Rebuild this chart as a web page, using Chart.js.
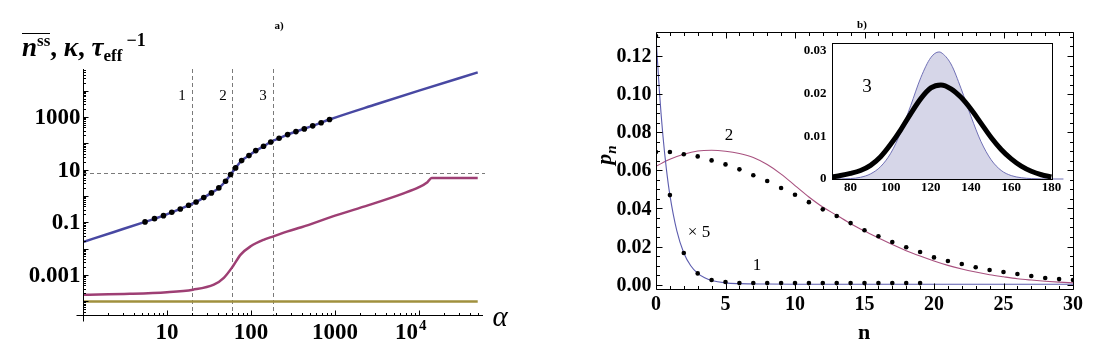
<!DOCTYPE html>
<html>
<head>
<meta charset="utf-8">
<script src="https://cdn.jsdelivr.net/npm/chart.js@4.4.1/dist/chart.umd.min.js"></script>
<style>
  body { margin: 0; background: #fff; }
  #wrap { position: relative; width: 1104px; height: 363px; overflow: hidden; font-family: "Liberation Serif", "Times New Roman", serif; color: #000; }
  canvas { position: absolute; left: 0; top: 0; }
  .lbl { position: absolute; transform: translate(-50%, -50%); white-space: nowrap; line-height: 1; }
  .sm { position: relative; }
</style>
</head>
<body>
<div id="wrap">
  <canvas id="chartA" width="1104" height="363"></canvas>
  <canvas id="chartB" width="1104" height="363"></canvas>
  <canvas id="chartC" width="1104" height="363"></canvas>

  <div class="lbl" style="left:279px;top:25px;font-weight:bold;font-size:11px">a)</div>
  <div class="lbl" style="left:862px;top:24px;font-weight:bold;font-size:11px">b)</div>

  <div style="position:absolute;left:22px;top:33px;font-weight:bold;font-size:27px;line-height:27px;white-space:nowrap">
    <span style="display:inline-block;border-top:1.5px solid #000;line-height:26px"><i>n</i><span class="sm" style="font-size:17px;top:-10px">ss</span></span>, <i>κ</i>, <i>τ</i><span class="sm" style="font-size:17px;top:5px">eff</span><span class="sm" style="font-size:18px;top:-10px;margin-left:4px">−1</span>
  </div>
  <div class="lbl" style="left:500px;top:316px;font-style:italic;font-size:29px">α</div>

  <div class="lbl" style="left:182px;top:95px;font-size:15px">1</div>
  <div class="lbl" style="left:223px;top:95px;font-size:15px">2</div>
  <div class="lbl" style="left:263px;top:95px;font-size:15px">3</div>

  <div class="lbl" style="left:604px;top:155px;transform:translate(-50%,-50%) rotate(-90deg);font-weight:bold;font-size:22px"><i>p</i><span class="sm" style="font-size:15px;top:5px"><i>n</i></span></div>
  <div class="lbl" style="left:864px;top:332px;font-weight:bold;font-size:22px">n</div>
  <div class="lbl" style="left:729px;top:134px;font-size:17px">2</div>
  <div class="lbl" style="left:699px;top:231px;font-size:17px">× 5</div>
  <div class="lbl" style="left:757px;top:264px;font-size:17px">1</div>
  <div class="lbl" style="left:867px;top:85px;font-size:19px">3</div>
</div>

<script>
// ---- panel a) : steady state quantities vs alpha (log-log)
const alphaLine = [1, 2.34, 5.48, 9.08, 14.4, 22.2, 27.4, 33.8, 41.4, 49.8, 57.1, 65.6, 77.4, 94.6, 114, 141, 172, 216, 273, 343, 543, 861, 3162, 10000, 50000];
const nssLine = [0.0178, 0.0427, 0.103, 0.178, 0.320, 0.589, 0.861, 1.30, 2.01, 3.59, 6.46, 11.6, 21.9, 33.9, 52.5, 76.4, 112, 154, 213, 277, 457, 794, 3090, 10000, 49000];
const alphaDots = [5.48, 7.1, 9.08, 11.4, 14.4, 18.1, 22.2, 27.4, 33.8, 41.4, 49.8, 57.1, 65.6, 77.4, 94.6, 114, 141, 172, 216, 273, 343, 431, 543, 684, 861];
const nssDots = [0.103, 0.137, 0.178, 0.239, 0.320, 0.440, 0.589, 0.861, 1.30, 2.01, 3.59, 6.46, 11.6, 21.9, 33.9, 52.5, 76.4, 112, 154, 213, 277, 350, 457, 600, 794];
const alphaKappa = [1, 3.62, 10, 20.4, 36.1, 47.5, 61, 75.3, 99.1, 143, 185, 273, 398, 1000, 2512, 6310, 10000, 12590, 14130, 50000];
const kappaVals = [1.78e-4, 1.91e-4, 2.19e-4, 2.75e-4, 4.27e-4, 7.76e-4, 2.14e-3, 5.89e-3, 0.0122, 0.0219, 0.0292, 0.0452, 0.0646, 0.178, 0.447, 1.20, 2.14, 3.31, 4.79, 4.79];
const alphaTau = [1, 50000];
const tauVals = [9.7e-5, 9.7e-5];
const alphaMarks = [20, 60, 185];
const nssLevel = 7.46;
const yTicksA = [0.001, 0.1, 10, 1000];
const yLabelsA = ['0.001', '0.1', '10', '1000'];
const xTicksA = [10, 100, 1000, 10000];
const xLabelsA = ['10', '100', '1000', '10^4'];

// ---- panel b) : distributions p_n
const nDots2 = [0, 1, 2, 3, 4, 5, 6, 7, 8, 9, 10, 11, 12, 13, 14, 15, 16, 17, 18, 19, 20, 21, 22, 23, 24, 25, 26, 27, 28, 29, 30];
const pDots2 = [0.0696, 0.0696, 0.0684, 0.0673, 0.0652, 0.0631, 0.0605, 0.0574, 0.0544, 0.0507, 0.0472, 0.0433, 0.0395, 0.0360, 0.0323, 0.0285, 0.0254, 0.0224, 0.0196, 0.0171, 0.0143, 0.0124, 0.0108, 0.0091, 0.0077, 0.0066, 0.0056, 0.0045, 0.0035, 0.0029, 0.0024];
const nLine2 = [0, 1, 2, 3, 4, 5, 6, 7, 8, 9, 10, 11, 12, 13, 14, 15, 16, 17, 18, 19, 20, 21, 22, 23, 24, 25, 26, 27, 28, 29, 30];
const pLine2 = [0.0621, 0.0658, 0.0684, 0.0701, 0.0705, 0.0700, 0.0688, 0.0667, 0.0630, 0.0580, 0.0520, 0.0460, 0.0407, 0.0364, 0.0320, 0.0281, 0.0245, 0.0210, 0.0178, 0.0150, 0.0124, 0.0101, 0.0082, 0.0066, 0.0052, 0.0041, 0.0031, 0.0024, 0.0018, 0.0013, 0.0009];
const nDots1 = [0, 1, 2, 3, 4, 5, 6, 7, 8, 9, 10, 11, 12, 13, 14, 15, 16, 17, 18, 19];
const pDots1 = [0.1305, 0.0470, 0.0166, 0.0059, 0.0024, 0.0014, 0.0008, 0.0008, 0.0008, 0.0008, 0.0008, 0.0008, 0.0008, 0.0008, 0.0008, 0.0008, 0.0008, 0.0008, 0.0008, 0.0008];
const nLine1 = [0, 0.25, 0.5, 0.75, 1, 1.5, 2, 2.5, 3, 3.5, 4, 5, 6, 8, 10, 30];
const pLine1 = [0.130, 0.101, 0.078, 0.0605, 0.047, 0.0282, 0.0166, 0.0099, 0.0059, 0.0036, 0.0022, 0.0009, 0.0005, 0.0003, 0.0002, 0.0002];
const yTicksB = [0, 0.02, 0.04, 0.06, 0.08, 0.10, 0.12];
const yLabelsB = ['0.00', '0.02', '0.04', '0.06', '0.08', '0.10', '0.12'];
const xTicksB = [0, 5, 10, 15, 20, 25, 30];

// ---- inset (curve 3)
const nInset = [71, 75, 80, 85, 90, 95, 100, 105, 110, 115, 120, 125, 130, 135, 140, 145, 150, 155, 160, 165, 170, 175, 180];
const pInset = [0.0005, 0.0008, 0.0013, 0.0020, 0.0032, 0.0052, 0.0081, 0.0115, 0.0153, 0.0188, 0.0213, 0.0220, 0.0211, 0.0191, 0.0163, 0.0130, 0.0097, 0.0069, 0.0047, 0.0030, 0.0018, 0.0010, 0.0005];
const nInsetFill = [71, 80, 85, 90, 95, 100, 105, 110, 115, 120, 124, 125, 130, 135, 140, 145, 150, 155, 160, 165, 170, 180, 186];
const pInsetFill = [0, 0.0001, 0.0004, 0.0012, 0.0029, 0.0060, 0.0109, 0.0172, 0.0237, 0.0284, 0.0297, 0.0296, 0.0269, 0.0212, 0.0146, 0.0087, 0.0045, 0.0020, 0.0008, 0.0003, 0.0001, 0, 0];
const yTicksC = [0, 0.01, 0.02, 0.03];
const yLabelsC = ['0', '0.01', '0.02', '0.03'];
const xTicksC = [80, 100, 120, 140, 160, 180];

const SERIF = '"Liberation Serif", "Times New Roman", serif';

function pts(xs, ys) {
  return xs.map((v, i) => ({ x: v, y: ys[i] }));
}

function baseOptions(pad, xScale, yScale, plugin) {
  return {
    responsive: false,
    animation: false,
    devicePixelRatio: 1,
    events: [],
    layout: { padding: pad },
    plugins: { legend: { display: false }, tooltip: { enabled: false } },
    scales: { x: Object.assign({ display: false }, xScale), y: Object.assign({ display: false }, yScale) },
    elements: { point: { radius: 0 } }
  };
}

function text(ctx, s, x, y, font, align) {
  ctx.font = font;
  ctx.textAlign = align;
  ctx.textBaseline = 'middle';
  ctx.fillText(s, x, y);
}

// Plugin for panel a): dashed guides, crossing axes with log ticks
const panelA = {
  id: 'panelA',
  beforeDatasetsDraw(chart) {
    const { ctx, scales: { x, y } } = chart;
    ctx.save();
    ctx.strokeStyle = '#7a7a7a';
    ctx.lineWidth = 1;
    ctx.setLineDash([4, 3]);
    ctx.beginPath();
    alphaMarks.forEach(a => {
      const px = Math.round(x.getPixelForValue(a)) + 0.5;
      ctx.moveTo(px, y.top);
      ctx.lineTo(px, y.bottom);
    });
    const py = Math.round(y.getPixelForValue(nssLevel)) + 0.5;
    ctx.moveTo(x.left, py);
    ctx.lineTo(x.right + 2, py);
    ctx.stroke();
    ctx.restore();
  },
  afterDraw(chart) {
    const { ctx, scales: { x, y } } = chart;
    const ax = Math.round(x.left) + 0.5;
    const ay = Math.round(y.bottom) + 0.5;
    ctx.save();
    ctx.strokeStyle = '#000';
    ctx.lineWidth = 1;
    ctx.beginPath();
    ctx.moveTo(ax - 7, ay); ctx.lineTo(x.right, ay);
    ctx.moveTo(ax, y.top); ctx.lineTo(ax, ay + 6);
    for (let e = -5; e <= 5; e++) {
      for (let m = 1; m < 10; m++) {
        const v = m * Math.pow(10, e);
        const len = m === 1 ? 5 : 2.5;
        if (v > y.min && v < y.max) {
          const p = Math.round(y.getPixelForValue(v)) + 0.5;
          ctx.moveTo(ax, p); ctx.lineTo(ax + len, p);
        }
        if (v > x.min && v < x.max) {
          const p = Math.round(x.getPixelForValue(v)) + 0.5;
          ctx.moveTo(p, ay); ctx.lineTo(p, ay - len);
        }
      }
    }
    ctx.stroke();
    ctx.fillStyle = '#000';
    const f = 'bold 23px ' + SERIF;
    yTicksA.forEach((v, i) => text(ctx, yLabelsA[i], ax - 3, y.getPixelForValue(v) + 1, f, 'right'));
    xTicksA.forEach((v, i) => {
      const px = x.getPixelForValue(v);
      const parts = xLabelsA[i].split('^');
      if (parts.length === 1) {
        text(ctx, parts[0], px, 333, f, 'center');
      } else {
        text(ctx, parts[0], px - 1, 333, f, 'right');
        text(ctx, parts[1], px, 326, 'bold 15px ' + SERIF, 'left');
      }
    });
    ctx.restore();
  }
};

// Plugin for panel b): frame with ticks on all four sides
const panelB = {
  id: 'panelB',
  afterDraw(chart) {
    const { ctx, scales: { x, y } } = chart;
    const L = Math.round(x.left) + 0.5, R = Math.round(x.right) + 0.5;
    const T = Math.round(y.top) + 0.5, B = Math.round(y.bottom) + 0.5;
    ctx.save();
    ctx.strokeStyle = '#000';
    ctx.lineWidth = 1;
    ctx.beginPath();
    ctx.rect(L, T, R - L, B - T);
    for (let n = 0; n <= 30; n++) {
      const len = n % 5 === 0 ? 6 : 3.5;
      const p = Math.round(x.getPixelForValue(n)) + 0.5;
      ctx.moveTo(p, B); ctx.lineTo(p, B - len);
      ctx.moveTo(p, T); ctx.lineTo(p, T + len);
    }
    for (let k = 0; k <= 26; k++) {
      const v = k * 0.005;
      const len = k % 4 === 0 ? 6 : 3.5;
      const p = Math.round(y.getPixelForValue(v)) + 0.5;
      ctx.moveTo(L, p); ctx.lineTo(L + len, p);
      ctx.moveTo(R, p); ctx.lineTo(R - len, p);
    }
    ctx.stroke();
    ctx.fillStyle = '#000';
    const f = 'bold 20px ' + SERIF;
    yTicksB.forEach((v, i) => text(ctx, yLabelsB[i], L - 5, y.getPixelForValue(v) + 1, f, 'right'));
    xTicksB.forEach(v => text(ctx, String(v), x.getPixelForValue(v), 305, f, 'center'));
    ctx.restore();
  }
};

// Plugin for the inset: white background, frame and labels
const panelC = {
  id: 'panelC',
  beforeDraw(chart) {
    const { ctx, chartArea: a } = chart;
    ctx.save();
    ctx.fillStyle = '#fff';
    ctx.fillRect(a.left, a.top, a.right - a.left, a.bottom - a.top);
    ctx.restore();
  },
  afterDraw(chart) {
    const { ctx, scales: { x, y } } = chart;
    const L = Math.round(x.left) + 0.5, R = Math.round(x.right) + 0.5;
    const T = Math.round(y.top) + 0.5, B = Math.round(y.bottom) + 0.5;
    ctx.save();
    ctx.strokeStyle = '#000';
    ctx.lineWidth = 1;
    ctx.strokeRect(L, T, R - L, B - T);
    ctx.fillStyle = '#000';
    const f = 'bold 13px ' + SERIF;
    yTicksC.forEach((v, i) => text(ctx, yLabelsC[i], L - 6, y.getPixelForValue(v), f, 'right'));
    xTicksC.forEach(v => text(ctx, String(v), x.getPixelForValue(v), 188, f, 'center'));
    ctx.restore();
  }
};

new Chart(document.getElementById('chartA'), {
  type: 'line',
  data: {
    datasets: [
      { data: pts(alphaDots, nssDots), showLine: false, pointRadius: 2.8, pointBackgroundColor: '#000', pointBorderWidth: 0 },
      { data: pts(alphaLine, nssLine), borderColor: '#4848a2', borderWidth: 2.5, cubicInterpolationMode: 'monotone' },
      { data: pts(alphaKappa, kappaVals), borderColor: '#9e3f74', borderWidth: 2.5, cubicInterpolationMode: 'monotone' },
      { data: pts(alphaTau, tauVals), borderColor: '#a0903e', borderWidth: 2.5 }
    ]
  },
  options: baseOptions({ left: 83, right: 621, top: 69, bottom: 48 },
    { type: 'logarithmic', min: 1, max: 57800 },
    { type: 'logarithmic', min: 3.0e-5, max: 6.6e4 }),
  plugins: [panelA]
});

new Chart(document.getElementById('chartB'), {
  type: 'line',
  data: {
    datasets: [
      { data: pts(nDots1, pDots1), showLine: false, pointRadius: 2.3, pointBackgroundColor: '#000', pointBorderWidth: 0 },
      { data: pts(nDots2, pDots2), showLine: false, pointRadius: 2.3, pointBackgroundColor: '#000', pointBorderWidth: 0 },
      { data: pts(nLine1, pLine1), borderColor: '#5c5cae', borderWidth: 1.1, cubicInterpolationMode: 'monotone' },
      { data: pts(nLine2, pLine2), borderColor: '#a8517f', borderWidth: 1.1, cubicInterpolationMode: 'monotone' }
    ]
  },
  options: baseOptions({ left: 656, right: 31, top: 32, bottom: 74 },
    { type: 'linear', min: 0, max: 30 },
    { type: 'linear', min: -0.0023, max: 0.1326 }),
  plugins: [panelB]
});

new Chart(document.getElementById('chartC'), {
  type: 'line',
  data: {
    datasets: [
      { data: pts(nInset, pInset), borderColor: '#000', borderWidth: 5, cubicInterpolationMode: 'monotone' },
      { data: pts(nInsetFill, pInsetFill), borderColor: '#7070b6', borderWidth: 1, backgroundColor: '#d6d6e8', fill: 'origin', cubicInterpolationMode: 'monotone', clip: false }
    ]
  },
  options: baseOptions({ left: 832, right: 52, top: 43, bottom: 184 },
    { type: 'linear', min: 70.8, max: 180.3 },
    { type: 'linear', min: 0, max: 0.0318 }),
  plugins: [panelC]
});
</script>
</body>
</html>
